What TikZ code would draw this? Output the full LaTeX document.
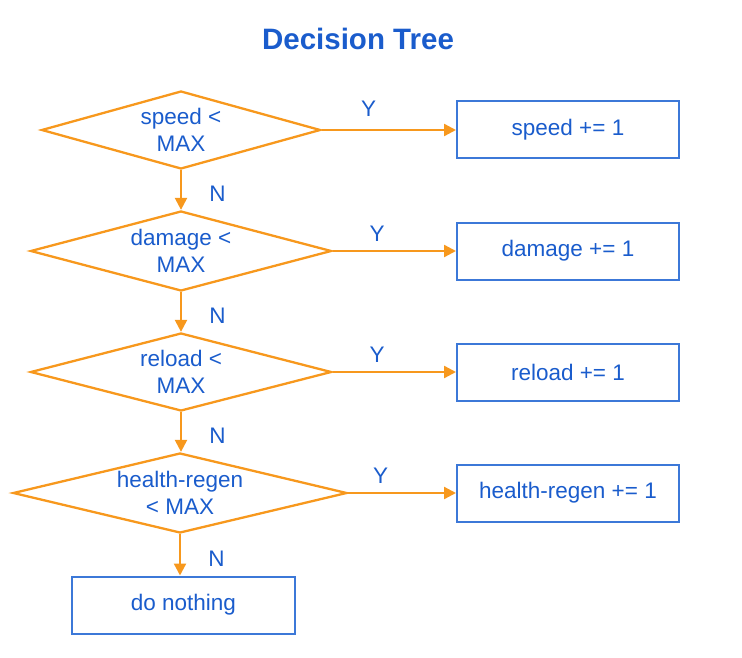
\documentclass[tikz,border=0pt]{standalone}
\usepackage{fontspec}
\setmainfont{Liberation Sans}
\usetikzlibrary{shapes.geometric}
\usetikzlibrary{arrows.meta}
\definecolor{flowblue}{HTML}{1A5CCC}
\definecolor{boxblue}{HTML}{3C78D8}
\definecolor{floworange}{HTML}{F7981D}

\begin{document}
\begin{tikzpicture}[x=1pt,y=-1pt,every node/.style = {align=center,text=flowblue,font=\fontsize{22.5}{27}\selectfont},
    test/.style = {diamond,aspect=4.2,draw=floworange,line width=2.3pt,inner sep=0pt},
    act/.style = {rectangle,draw=boxblue,line width=2pt,minimum width=222pt,minimum height=57pt},
    flow/.style = {draw=floworange,line width=2.3pt,-{Triangle[length=12pt,width=12pt]}}]
\useasboundingbox (0,0) rectangle (742,658);
\node (title) at (358,39) {\fontsize{29.5}{32}\selectfont\bfseries Decision Tree};
\node[test,minimum width=279pt,minimum height=78pt] (t1) at (181,130) {speed <\\MAX};
\node[test,minimum width=301pt,minimum height=80pt] (t2) at (181,251) {damage <\\MAX};
\node[test,minimum width=301pt,minimum height=78pt] (t3) at (181,372) {reload <\\MAX};
\node[test,minimum width=334pt,minimum height=80pt] (t4) at (180,493) {health-regen\\< MAX};
\node[act] (a1) at (568,130) {speed += 1};
\node[act] (a2) at (568,251) {damage += 1};
\node[act] (a3) at (568,372) {reload += 1};
\node[act] (a4) at (568,493) {health-regen += 1};
\node[act,minimum width=223pt] (none) at (183.5,605) {do nothing};
\draw[flow] (t1.east) -- node[above=9pt,pos=0.35] {Y} (a1.west);
\draw[flow] (t2.east) -- node[above=5pt,pos=0.36] {Y} (a2.west);
\draw[flow] (t3.east) -- node[above=5pt,pos=0.36] {Y} (a3.west);
\draw[flow] (t4.east) -- node[above=5pt,pos=0.3] {Y} (a4.west);
\draw[flow] (t1.south) -- node[right=24pt,pos=0.6] {N} (t2.north);
\draw[flow] (t2.south) -- node[right=24pt,pos=0.6] {N} (t3.north);
\draw[flow] (t3.south) -- node[right=24pt,pos=0.6] {N} (t3.south |- t4.north);
\draw[flow] (t4.south) -- node[right=24pt,pos=0.6] {N} (t4.south |- none.north);
\end{tikzpicture}
\end{document}
